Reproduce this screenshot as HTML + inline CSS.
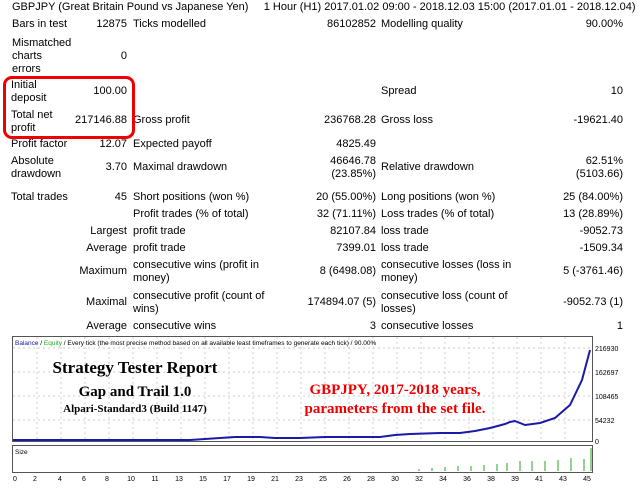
<!DOCTYPE html>
<html><head><meta charset="utf-8"><style>
body{margin:0;width:640px;height:488px;background:#fff;position:relative;overflow:hidden;font-family:"Liberation Sans","DejaVu Sans",sans-serif;font-size:11px;color:#000}
.t{position:absolute;line-height:13px;white-space:nowrap}
.r{text-align:right}
</style></head><body>
<div class="t" style="left:12px;top:1px">GBPJPY (Great Britain Pound vs Japanese Yen)&nbsp;&nbsp;&nbsp;&nbsp;&nbsp;1 Hour (H1) 2017.01.02 09:00 - 2018.12.03 15:00 (2017.01.01 - 2018.12.04)</div>

<div class="t" style="left:12px;top:18px">Bars in test</div><div class="t r" style="right:513px;top:18px">12875</div>
<div class="t" style="left:133px;top:18px">Ticks modelled</div><div class="t r" style="right:264px;top:18px">86102852</div>
<div class="t" style="left:381px;top:18px">Modelling quality</div><div class="t r" style="right:17px;top:18px">90.00%</div>

<div class="t" style="left:12px;top:37px">Mismatched<br>charts<br>errors</div><div class="t r" style="right:513px;top:50px">0</div>

<div class="t" style="left:11px;top:79px">Initial<br>deposit</div><div class="t r" style="right:513px;top:85px">100.00</div>
<div class="t" style="left:381px;top:85px">Spread</div><div class="t r" style="right:17px;top:85px">10</div>

<div class="t" style="left:11px;top:109px">Total net<br>profit</div><div class="t r" style="right:513px;top:114px">217146.88</div>
<div class="t" style="left:133px;top:114px">Gross profit</div><div class="t r" style="right:264px;top:114px">236768.28</div>
<div class="t" style="left:381px;top:114px">Gross loss</div><div class="t r" style="right:17px;top:114px">-19621.40</div>
<div style="position:absolute;left:3px;top:76px;width:126px;height:57px;border:3px solid #e00;border-radius:9px"></div>

<div class="t" style="left:11px;top:138px">Profit factor</div><div class="t r" style="right:513px;top:138px">12.07</div>
<div class="t" style="left:133px;top:138px">Expected payoff</div><div class="t r" style="right:264px;top:138px">4825.49</div>

<div class="t" style="left:11px;top:155px">Absolute<br>drawdown</div><div class="t r" style="right:513px;top:161px">3.70</div>
<div class="t" style="left:133px;top:161px">Maximal drawdown</div><div class="t r" style="right:264px;top:155px">46646.78<br>(23.85%)</div>
<div class="t" style="left:381px;top:161px">Relative drawdown</div><div class="t r" style="right:17px;top:155px">62.51%<br>(5103.66)</div>

<div class="t" style="left:11px;top:191px">Total trades</div><div class="t r" style="right:513px;top:191px">45</div>
<div class="t" style="left:133px;top:191px">Short positions (won %)</div><div class="t r" style="right:264px;top:191px">20 (55.00%)</div>
<div class="t" style="left:381px;top:191px">Long positions (won %)</div><div class="t r" style="right:17px;top:191px">25 (84.00%)</div>

<div class="t" style="left:133px;top:208px">Profit trades (% of total)</div><div class="t r" style="right:264px;top:208px">32 (71.11%)</div>
<div class="t" style="left:381px;top:208px">Loss trades (% of total)</div><div class="t r" style="right:17px;top:208px">13 (28.89%)</div>

<div class="t r" style="right:513px;top:225px">Largest</div>
<div class="t" style="left:133px;top:225px">profit trade</div><div class="t r" style="right:264px;top:225px">82107.84</div>
<div class="t" style="left:381px;top:225px">loss trade</div><div class="t r" style="right:17px;top:225px">-9052.73</div>

<div class="t r" style="right:513px;top:242px">Average</div>
<div class="t" style="left:133px;top:242px">profit trade</div><div class="t r" style="right:264px;top:242px">7399.01</div>
<div class="t" style="left:381px;top:242px">loss trade</div><div class="t r" style="right:17px;top:242px">-1509.34</div>

<div class="t r" style="right:513px;top:265px">Maximum</div>
<div class="t" style="left:133px;top:259px">consecutive wins (profit in<br>money)</div><div class="t r" style="right:264px;top:265px">8 (6498.08)</div>
<div class="t" style="left:381px;top:259px">consecutive losses (loss in<br>money)</div><div class="t r" style="right:17px;top:265px">5 (-3761.46)</div>

<div class="t r" style="right:513px;top:296px">Maximal</div>
<div class="t" style="left:133px;top:290px">consecutive profit (count of<br>wins)</div><div class="t r" style="right:264px;top:296px">174894.07 (5)</div>
<div class="t" style="left:381px;top:290px">consecutive loss (count of<br>losses)</div><div class="t r" style="right:17px;top:296px">-9052.73 (1)</div>

<div class="t r" style="right:513px;top:320px">Average</div>
<div class="t" style="left:133px;top:320px">consecutive wins</div><div class="t r" style="right:264px;top:320px">3</div>
<div class="t" style="left:381px;top:320px">consecutive losses</div><div class="t r" style="right:17px;top:320px">1</div>

<svg style="position:absolute;left:0;top:334px" width="640" height="154" viewBox="0 334 640 154">
<rect x="12.5" y="336.5" width="580" height="105" fill="#fff" stroke="#555"/>
<rect x="12.5" y="445.5" width="580" height="27" fill="#fff" stroke="#555"/>
<g stroke="#ccc" stroke-dasharray="2,3">
<line x1="13" y1="348" x2="592" y2="348"/><line x1="13" y1="372" x2="592" y2="372"/><line x1="13" y1="396" x2="592" y2="396"/><line x1="13" y1="420" x2="592" y2="420"/>
<line x1="37" y1="337" x2="37" y2="441"/><line x1="61" y1="337" x2="61" y2="441"/><line x1="85" y1="337" x2="85" y2="441"/><line x1="109" y1="337" x2="109" y2="441"/><line x1="133" y1="337" x2="133" y2="441"/><line x1="157" y1="337" x2="157" y2="441"/><line x1="181" y1="337" x2="181" y2="441"/><line x1="205" y1="337" x2="205" y2="441"/><line x1="229" y1="337" x2="229" y2="441"/><line x1="253" y1="337" x2="253" y2="441"/><line x1="277" y1="337" x2="277" y2="441"/><line x1="301" y1="337" x2="301" y2="441"/><line x1="325" y1="337" x2="325" y2="441"/><line x1="349" y1="337" x2="349" y2="441"/><line x1="373" y1="337" x2="373" y2="441"/><line x1="397" y1="337" x2="397" y2="441"/><line x1="421" y1="337" x2="421" y2="441"/><line x1="445" y1="337" x2="445" y2="441"/><line x1="469" y1="337" x2="469" y2="441"/><line x1="493" y1="337" x2="493" y2="441"/><line x1="517" y1="337" x2="517" y2="441"/><line x1="541" y1="337" x2="541" y2="441"/><line x1="565" y1="337" x2="565" y2="441"/>
</g>
<polyline fill="none" stroke="#1a1aa8" stroke-width="2" points="13,440 190,440 205,439 220,438 235,437 260,437 275,438 300,438 325,437 340,437 380,437 395,435 410,434 440,433 460,433 475,431 490,428 505,424 510,422 515,421 525,425 540,423 555,418 570,405 582,380 590,350"/>
<g stroke="#2a2" stroke-width="1">
<line x1="419" y1="471" x2="419" y2="469"/><line x1="432" y1="471" x2="432" y2="468"/><line x1="445" y1="471" x2="445" y2="467"/><line x1="458" y1="471" x2="458" y2="466"/><line x1="471" y1="471" x2="471" y2="466"/><line x1="484" y1="471" x2="484" y2="465"/><line x1="497" y1="471" x2="497" y2="464"/><line x1="507" y1="471" x2="507" y2="463"/><line x1="520" y1="471" x2="520" y2="461"/><line x1="532" y1="471" x2="532" y2="461"/><line x1="545" y1="471" x2="545" y2="461"/><line x1="558" y1="471" x2="558" y2="460"/><line x1="571" y1="471" x2="571" y2="458"/><line x1="584" y1="471" x2="584" y2="459"/><line x1="591" y1="471" x2="591" y2="448"/>
</g>
<g font-family="Liberation Sans, sans-serif" font-size="6.5" fill="#000">
<text x="15" y="345"><tspan fill="#1a1aa8">Balance</tspan> / <tspan fill="#2a2">Equity</tspan> / Every tick (the most precise method based on all available least timeframes to generate each tick) / 90.00%</text>
<text x="15" y="454">Size</text>
</g>
<g font-family="Liberation Sans, sans-serif" font-size="7" fill="#000">
<text x="595" y="351">216930</text><text x="595" y="375">162697</text><text x="595" y="399">108465</text><text x="595" y="423">54232</text><text x="595" y="444">0</text>
</g>
<g font-family="Liberation Sans, sans-serif" font-size="7" fill="#000" text-anchor="middle">
<text x="15" y="481">0</text><text x="35" y="481">2</text><text x="60" y="481">4</text><text x="84" y="481">6</text><text x="107" y="481">8</text><text x="131" y="481">10</text><text x="155" y="481">11</text><text x="179" y="481">13</text><text x="203" y="481">15</text><text x="227" y="481">17</text><text x="251" y="481">19</text><text x="275" y="481">21</text><text x="299" y="481">23</text><text x="323" y="481">25</text><text x="347" y="481">26</text><text x="371" y="481">28</text><text x="395" y="481">30</text><text x="419" y="481">32</text><text x="443" y="481">34</text><text x="467" y="481">36</text><text x="491" y="481">38</text><text x="515" y="481">39</text><text x="539" y="481">41</text><text x="563" y="481">43</text><text x="587" y="481">45</text>
</g>
<g font-family="Liberation Serif, serif" font-weight="bold" text-anchor="middle">
<text x="135" y="373" font-size="17">Strategy Tester Report</text>
<text x="135" y="396" font-size="15">Gap and Trail 1.0</text>
<text x="135" y="412" font-size="11">Alpari-Standard3 (Build 1147)</text>
<text x="395" y="394" font-size="15" fill="#e00">GBPJPY,  2017-2018 years,</text>
<text x="395" y="413" font-size="15" fill="#e00">parameters from the set file.</text>
</g>
</svg>
</body></html>
